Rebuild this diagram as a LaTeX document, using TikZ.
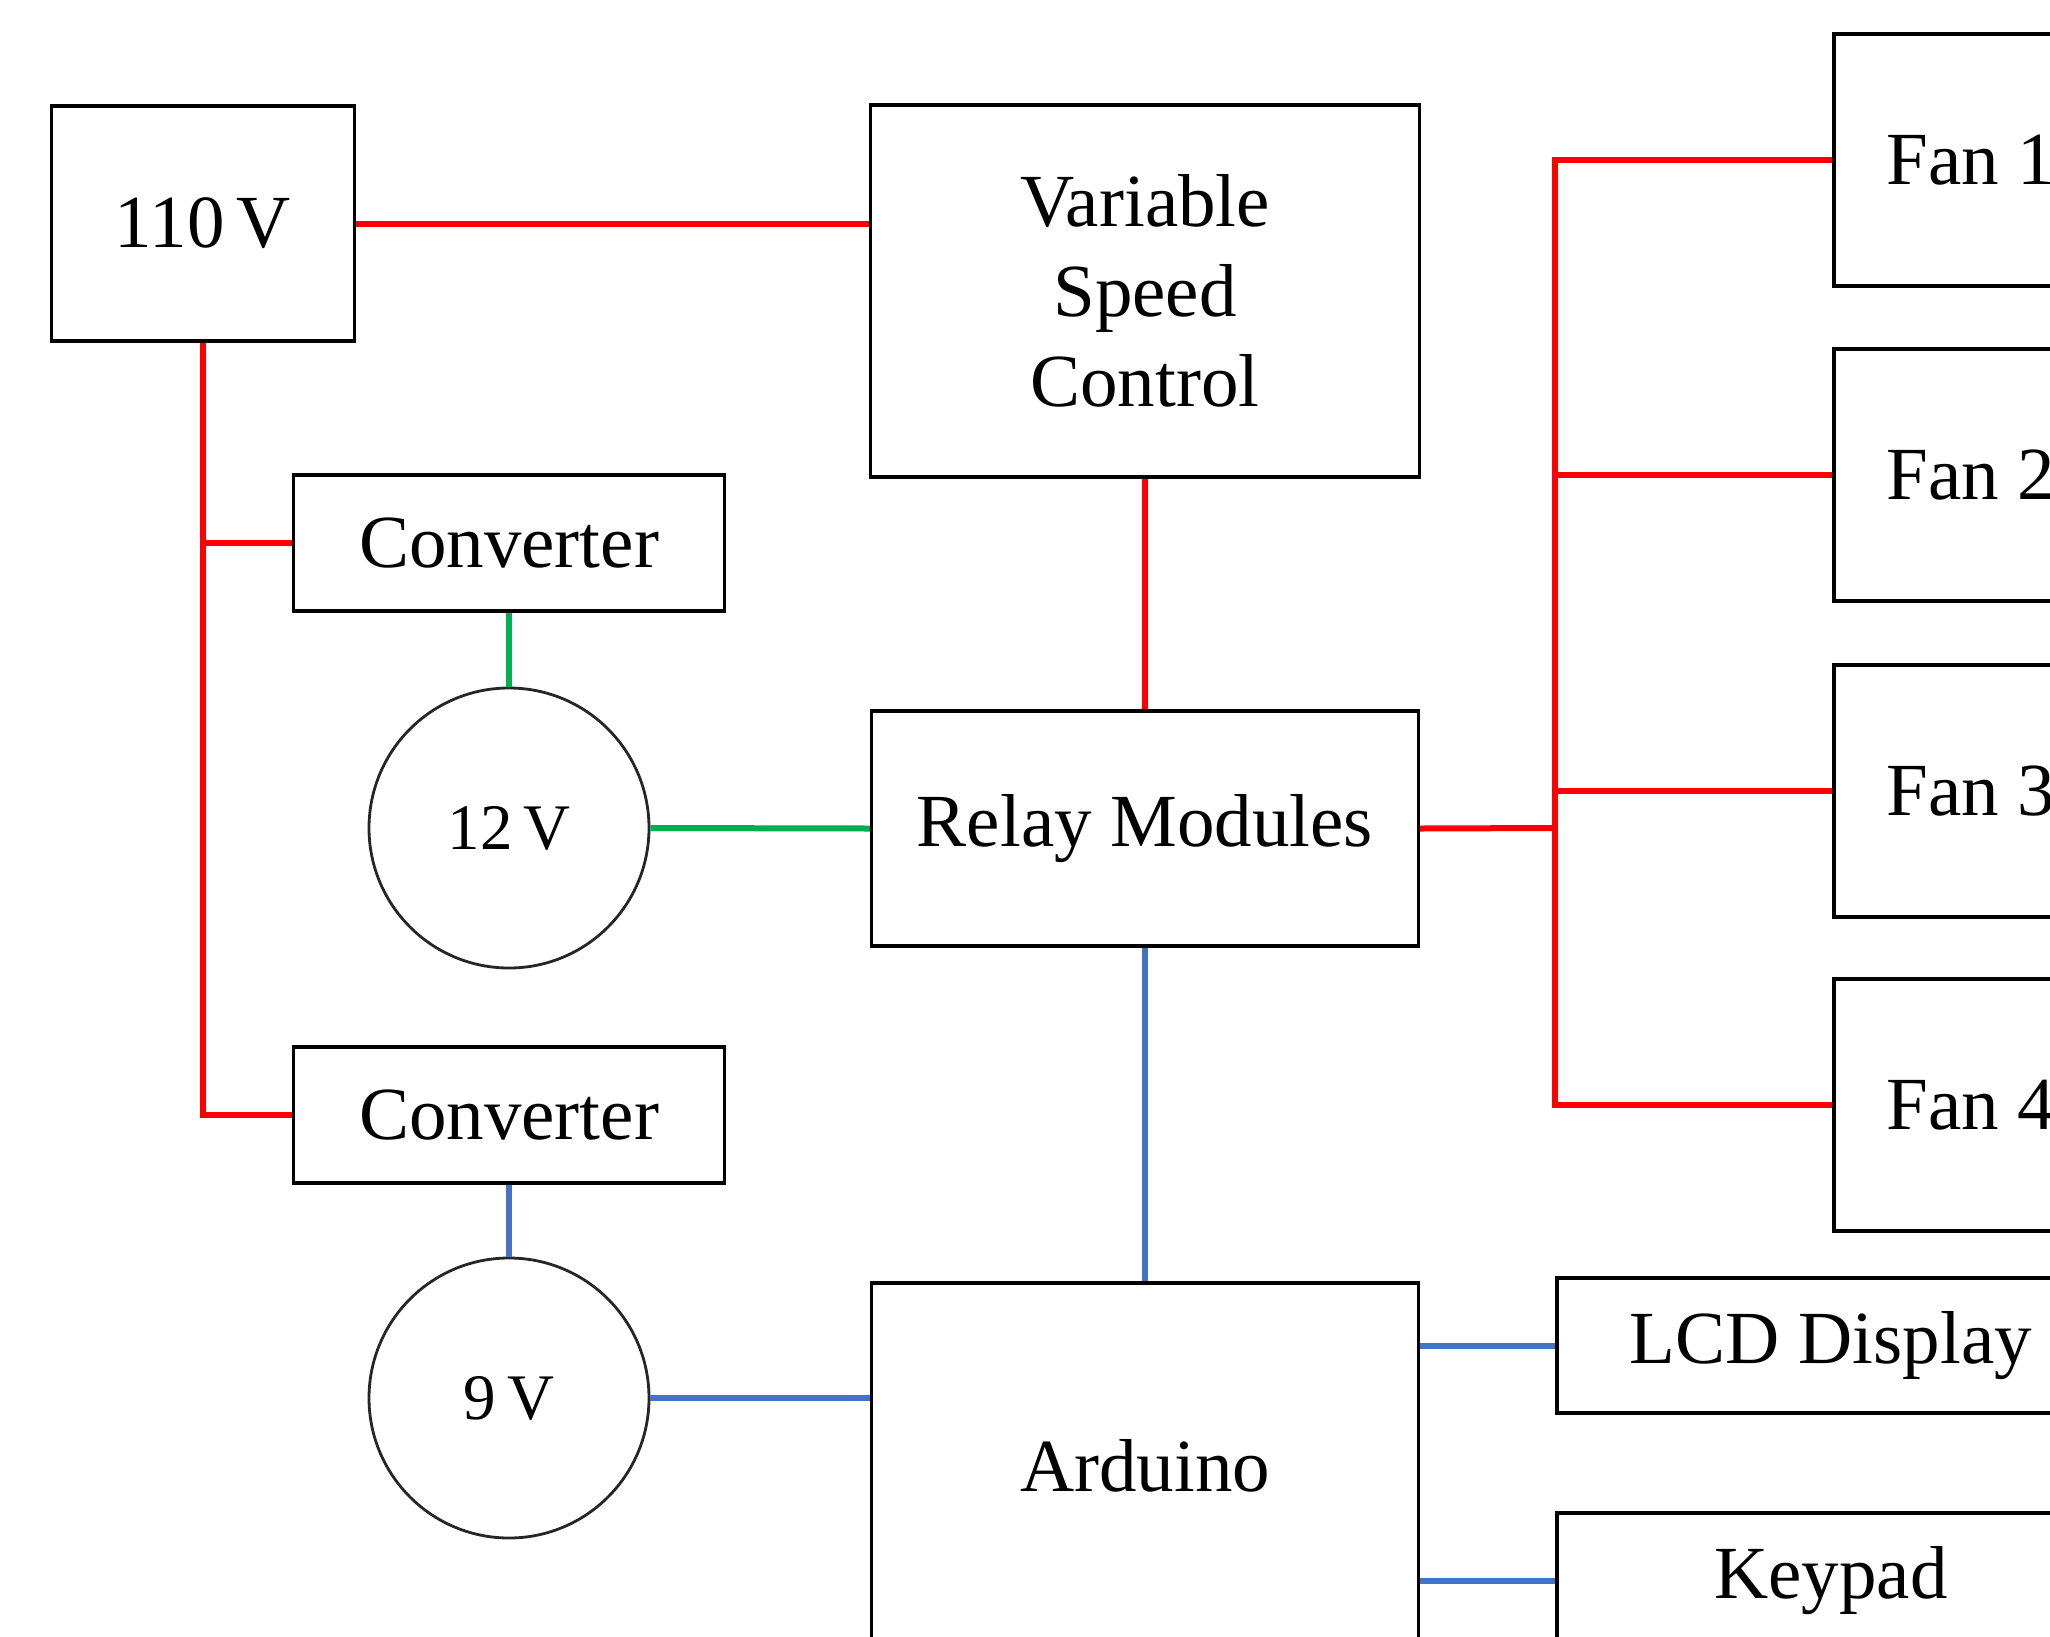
\documentclass[tikz,border=0pt]{standalone}
\usepackage{fontspec}
\setmainfont{Liberation Serif}
\definecolor{wred}{HTML}{FF0000}
\definecolor{wgreen}{HTML}{00B050}
\definecolor{wblue}{HTML}{4472C4}
\tikzset{
  blk/.style={draw=black, line width=3.3pt, rectangle, inner sep=0pt, align=center,
    font=\fontsize{75}{90}\selectfont},
  src/.style={draw=black!85, line width=2.8pt, circle, inner sep=0pt, minimum size=280pt,
    font=\fontsize{65}{78}\selectfont},
  redw/.style={draw=wred, line width=6pt},
  greenw/.style={draw=wgreen, line width=6pt},
  bluew/.style={draw=wblue, line width=6pt},
}
\begin{document}
\begin{tikzpicture}[x=1pt,y=-1pt]
\useasboundingbox (0,0) rectangle (2050,1636);
\fill[white] (0,0) rectangle (2050,1636);
% blocks
\node[blk, minimum width=303pt, minimum height=235pt] (v110) at (203,223.5) {110\,V};
\node[blk, minimum width=549pt, minimum height=372pt] (vsc) at (1145,291) {Variable\\Speed\\Control};
\node[blk, minimum width=431pt, minimum height=136pt] (conv1) at (509,543) {Converter};
\node[src] (c12) at (509,828) {12\,V};
\node[blk, minimum width=547pt, minimum height=235pt] (relay) at (1145,828.5) {Relay Modules};
\node[blk, minimum width=431pt, minimum height=136pt] (conv2) at (509,1115) {Converter};
\node[src] (c9) at (509,1398) {9\,V};
\node[blk, minimum width=547pt, minimum height=366pt] (ard) at (1145,1466) {Arduino};
\node[blk, minimum width=274pt, minimum height=252pt] (fan1) at (1971,160) {Fan 1};
\node[blk, minimum width=274pt, minimum height=252pt] (fan2) at (1971,475) {Fan 2};
\node[blk, minimum width=274pt, minimum height=252pt] (fan3) at (1971,791) {Fan 3};
\node[blk, minimum width=274pt, minimum height=252pt] (fan4) at (1971,1105) {Fan 4};
\node[blk, minimum width=548pt, minimum height=135pt] (lcd) at (1831,1345.5) {LCD Display};
\node[blk, minimum width=548pt, minimum height=135pt] (keypad) at (1831,1580.5) {Keypad};
\coordinate (bus) at (1555,828);
% red wiring
\draw[redw] (v110.east) -- (v110.east -| vsc.west);
\draw[redw] (v110.south) |- (conv2.west);
\draw[redw] (v110.south |- conv1.west) -- (conv1.west);
\draw[redw] (vsc.south) -- (relay.north);
\draw[redw] (relay.east) -- (bus);
\draw[redw] (fan1.west) -- (fan1.west -| bus) -- (fan4.west -| bus) -- (fan4.west);
\draw[redw] (fan2.west -| bus) -- (fan2.west);
\draw[redw] (fan3.west -| bus) -- (fan3.west);
% green wiring
\draw[greenw] (conv1.south) -- (c12.north);
\draw[greenw] (c12.east) -- (relay.west);
% blue wiring
\draw[bluew] (relay.south) -- (ard.north);
\draw[bluew] (conv2.south) -- (c9.north);
\draw[bluew] (c9.east) -- (c9.east -| ard.west);
\draw[bluew] (lcd.west -| ard.east) -- (lcd.west);
\draw[bluew] (keypad.west -| ard.east) -- (keypad.west);
\end{tikzpicture}
\end{document}
